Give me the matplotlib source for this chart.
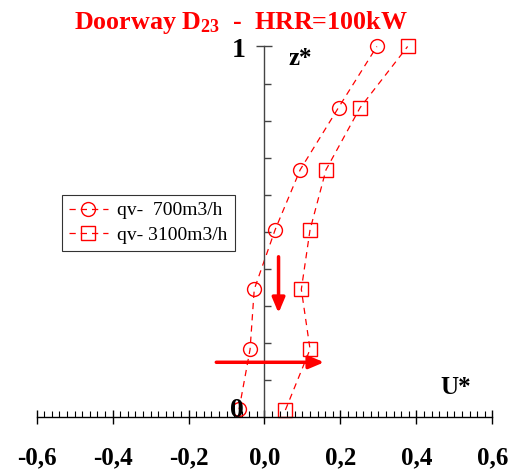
import matplotlib
matplotlib.use("Agg")
import matplotlib.pyplot as plt
from matplotlib.ticker import FixedLocator, FuncFormatter, MultipleLocator

# Profils de vitesse adimensionnelle a la porte D23
z_700 = [0.02, 0.182, 0.344, 0.505, 0.667, 0.835, 1.0]
u_700 = [-0.067, -0.038, -0.027, 0.028, 0.094, 0.195, 0.296]
z_3100 = [0.018, 0.182, 0.344, 0.505, 0.667, 0.835, 1.0]
u_3100 = [0.055, 0.120, 0.097, 0.120, 0.162, 0.252, 0.377]

labels = ["qv-  700m3/h", "qv- 3100m3/h"]
x_ticks = [-0.6, -0.4, -0.2, 0.0, 0.2, 0.4, 0.6]

RED = "#ff0000"
plt.rcParams["font.family"] = ["Liberation Serif", "DejaVu Serif"]
plt.rcParams["mathtext.fontset"] = "custom"
plt.rcParams["mathtext.rm"] = "Liberation Serif:bold"
plt.rcParams["mathtext.bf"] = "Liberation Serif:bold"
plt.rcParams["mathtext.default"] = "bf"

fig = plt.figure(figsize=(5.12, 4.70), dpi=100)
ax = fig.add_axes([0.0717, 0.1134, 0.8898, 0.7877])
ax.set_xlim(-0.6, 0.6)
ax.set_ylim(0, 1)

line_kw = dict(color=RED, lw=0.9, ls=(0, (5, 4)), markersize=10,
               markerfacecolor="none", markeredgecolor=RED, markeredgewidth=1.0,
               clip_on=False)
ax.plot(u_700, z_700, marker="o", label=labels[0], **line_kw)
ax.plot(u_3100, z_3100, marker="s", label=labels[1], **line_kw)

# fleches
arrow_kw = dict(arrowstyle="-|>,head_length=0.9,head_width=0.38", color=RED,
                lw=2.5, mutation_scale=10, shrinkA=0, shrinkB=0)
ax.annotate("", xy=(0.037, 0.28), xytext=(0.037, 0.432), arrowprops=arrow_kw)
ax.annotate("", xy=(0.157, 0.147), xytext=(-0.127, 0.147), arrowprops=arrow_kw)

# axes
for s in ["top", "right"]:
    ax.spines[s].set_visible(False)
ax.spines["left"].set_position(("data", 0))
ax.spines["left"].set_color("#444444")
ax.spines["left"].set_linewidth(1.0)
ax.spines["bottom"].set_color("black")
ax.spines["bottom"].set_linewidth(1.0)

ax.xaxis.set_major_locator(FixedLocator(x_ticks))
ax.xaxis.set_minor_locator(MultipleLocator(0.02))
ax.xaxis.set_major_formatter(FuncFormatter(lambda v, p: f"{v:.1f}".replace(".", ",")))
ax.tick_params(axis="x", which="major", direction="inout", length=10, width=1,
               pad=16, labelsize=18)
ax.tick_params(axis="x", which="minor", direction="in", length=4.3, width=0.8)
for t in ax.get_xticklabels():
    t.set_fontweight("bold")

ax.yaxis.set_major_locator(FixedLocator([1.0]))
ax.yaxis.set_minor_locator(FixedLocator([0.1, 0.2, 0.3, 0.4, 0.5, 0.6, 0.7, 0.8, 0.9]))
ax.tick_params(axis="y", which="major", direction="inout", length=11, width=1,
               color="#444444", labelleft=False)
ax.tick_params(axis="y", which="minor", direction="in", length=5, width=1,
               color="#444444")

ax.text(-0.069, 0.99, "1", fontsize=20, fontweight="bold", ha="center", va="center")
ax.text(-0.072, 0.016, "0", fontsize=20, fontweight="bold", ha="center", va="center")
ax.text(0.093, 0.968, "z*", fontsize=18, fontweight="bold", ha="center", va="center")
ax.text(0.504, 0.078, "U*", fontsize=18, fontweight="bold", ha="center", va="center")

fig.text(0.47, 0.938, "Doorway D$_{23}$  -  HRR=100kW", color=RED, fontsize=18.7,
         fontweight="bold", ha="center", va="baseline")

leg = ax.legend(loc="upper left", bbox_to_anchor=(0.121, 0.585),
                bbox_transform=fig.transFigure, fontsize=14, frameon=True,
                fancybox=False, edgecolor="black", handlelength=2.0,
                borderpad=0.35, labelspacing=0.35, handletextpad=0.5,
                borderaxespad=0)
leg.get_frame().set_linewidth(0.8)

fig.savefig("out.png", dpi=100)
